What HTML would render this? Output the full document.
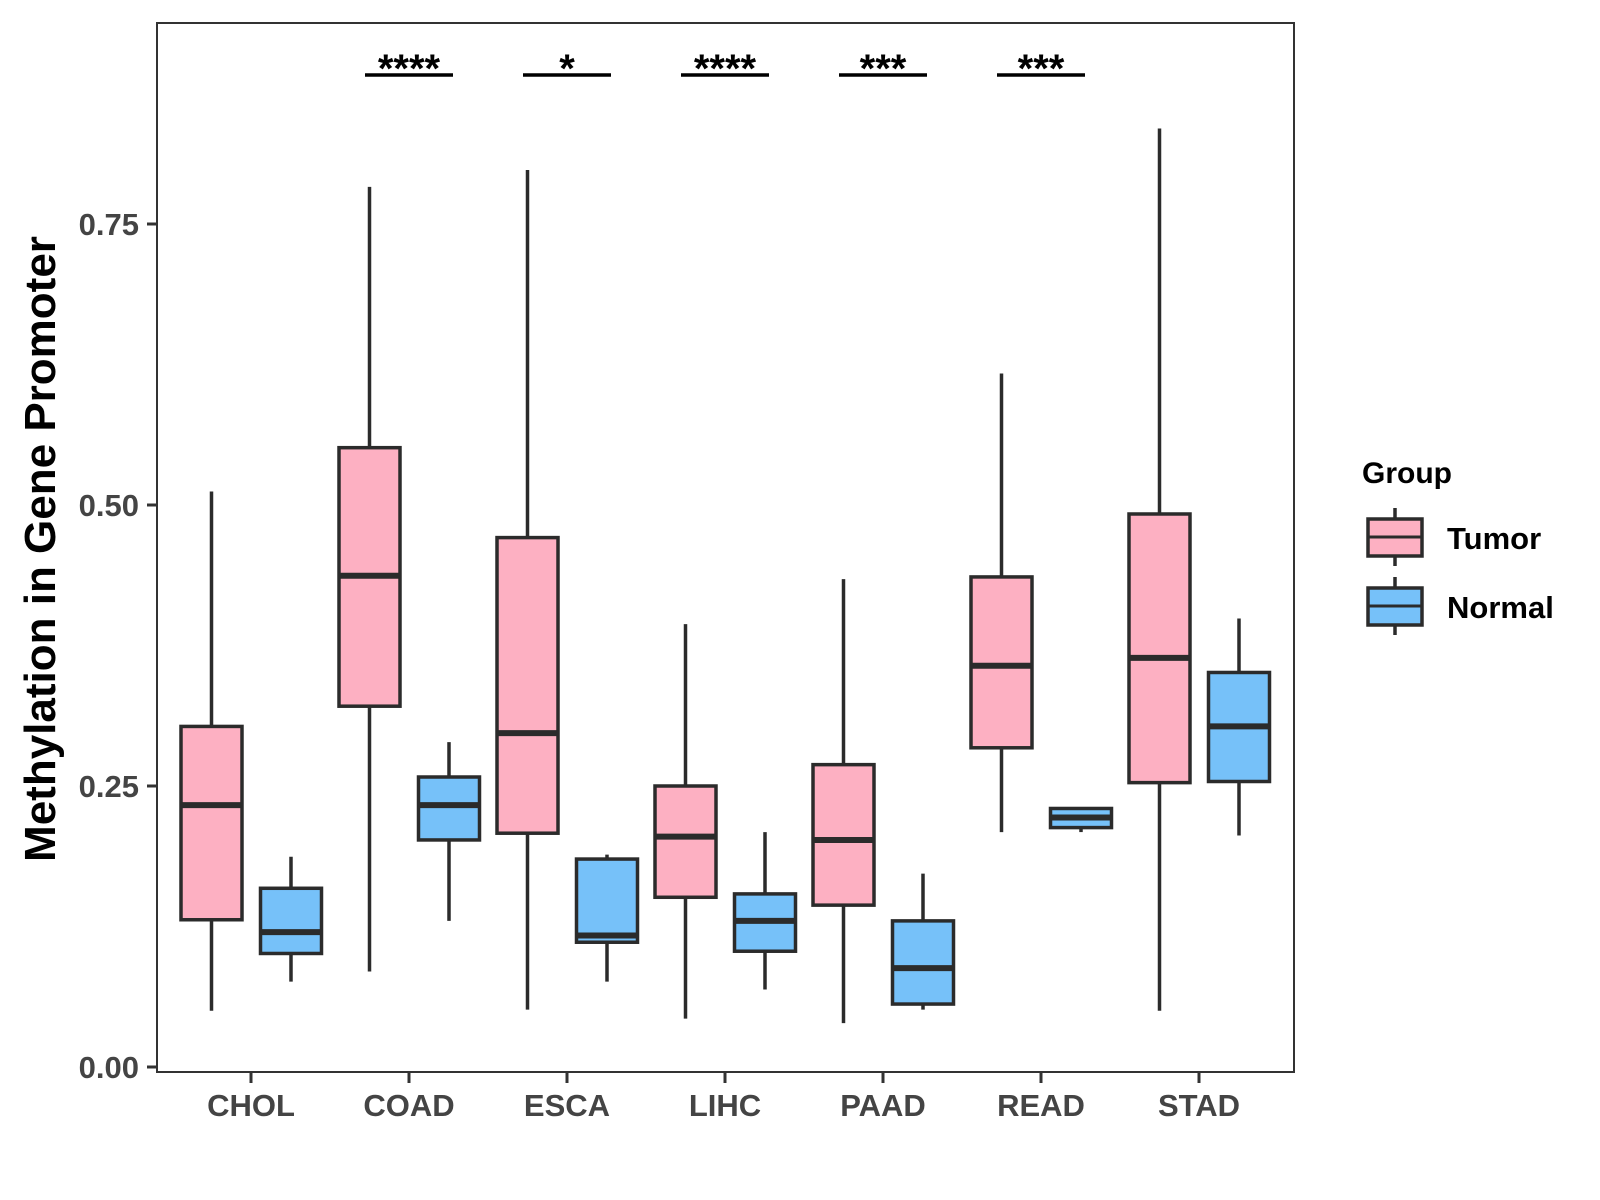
<!DOCTYPE html>
<html><head><meta charset="utf-8"><style>
body{margin:0;background:#fff;}
svg{display:block;font-family:"Liberation Sans",sans-serif;font-weight:bold;}
</style></head><body>
<svg id="chart" width="1600" height="1200" viewBox="0 0 1600 1200" xmlns="http://www.w3.org/2000/svg">
<rect x="157" y="23" width="1137" height="1049" fill="#fff" stroke="#333" stroke-width="2"/>
<g id="yaxis"></g>
<g id="xaxis"></g>
<g id="boxes"></g>
<g id="sig"></g>
<text x="55" y="549" transform="rotate(-90 55 549)" text-anchor="middle" font-size="44" fill="#000">Methylation in Gene Promoter</text>
<g>
<text x="1362" y="483" font-size="30" fill="#000">Group</text>
<g>
<line x1="1395" y1="508" x2="1395" y2="566" stroke="#2b2b2b" stroke-width="3.5"/>
<rect x="1368" y="519" width="54" height="37" fill="#FDB0C2" stroke="#2b2b2b" stroke-width="3.5"/>
<line x1="1368" y1="537" x2="1422" y2="537" stroke="#2b2b2b" stroke-width="3"/>
<text x="1447" y="549" font-size="31" fill="#000">Tumor</text>
</g>
<g>
<line x1="1395" y1="577" x2="1395" y2="635" stroke="#2b2b2b" stroke-width="3.5"/>
<rect x="1368" y="588" width="54" height="37" fill="#76C1F9" stroke="#2b2b2b" stroke-width="3.5"/>
<line x1="1368" y1="606" x2="1422" y2="606" stroke="#2b2b2b" stroke-width="3"/>
<text x="1447" y="618" font-size="31" fill="#000">Normal</text>
</g>
</g>
</svg>
<script>
const categories=["CHOL","COAD","ESCA","LIHC","PAAD","READ","STAD"];
// [whiskerMin, Q1, median, Q3, whiskerMax]
const tumorStats=[[0.050,0.131,0.233,0.303,0.512],[0.085,0.321,0.437,0.551,0.783],[0.051,0.208,0.297,0.471,0.798],[0.043,0.151,0.205,0.250,0.394],[0.039,0.144,0.202,0.269,0.434],[0.209,0.284,0.357,0.436,0.617],[0.050,0.253,0.364,0.492,0.835]];
const normalStats=[[0.076,0.101,0.120,0.159,0.187],[0.130,0.202,0.233,0.258,0.289],[0.076,0.111,0.117,0.185,0.189],[0.069,0.103,0.130,0.154,0.209],[0.051,0.056,0.088,0.130,0.172],[0.209,0.213,0.222,0.230,0.230],[0.206,0.254,0.303,0.351,0.399]];
const sigLabels=["","****","*","****","***","***",""];
const yTicks=[0,0.25,0.5,0.75];
const yTickLabels=["0.00","0.25","0.50","0.75"];
const NS="http://www.w3.org/2000/svg";
const y=v=>1067-v*1124;
const x=i=>251+i*158;
function mk(tag,attrs,parent){const e=document.createElementNS(NS,tag);for(const k in attrs)e.setAttribute(k,attrs[k]);parent.appendChild(e);return e;}
const ya=document.getElementById('yaxis');
yTicks.forEach((t,i)=>{
 const l=mk('line',{x1:147,x2:157,y1:y(t),y2:y(t),stroke:'#333','stroke-width':3},ya);
 
 
 const tx=mk('text',{x:139,y:y(t)+11,'text-anchor':'end','font-size':31,fill:'#444'},ya);
 tx.textContent=yTickLabels[i];
 
 
});
const xa=document.getElementById('xaxis');
categories.forEach((c,i)=>{
 const l=mk('line',{x1:x(i),x2:x(i),y1:1072,y2:1083,stroke:'#333','stroke-width':3},xa);
 
 
 const tx=mk('text',{x:x(i),y:1116,'text-anchor':'middle','font-size':31,fill:'#444'},xa);
 tx.textContent=c;
 
 
});
const bx=document.getElementById('boxes');
function drawBox(s,cx,fill,name){
 const g=mk('g',{},bx);
 
 
 const w=61;
 mk('line',{x1:cx,x2:cx,y1:y(s[4]),y2:y(s[0]),stroke:'#2b2b2b','stroke-width':3.5},g);
 mk('rect',{x:cx-w/2,y:y(s[3]),width:w,height:y(s[1])-y(s[3]),fill:fill,stroke:'#2b2b2b','stroke-width':3.5},g);
 mk('line',{x1:cx-w/2,x2:cx+w/2,y1:y(s[2]),y2:y(s[2]),stroke:'#2b2b2b','stroke-width':6},g);
}
categories.forEach((c,i)=>{
 drawBox(tumorStats[i],x(i)-39.5,'#FDB0C2','box-'+c.toLowerCase()+'-tumor');
 drawBox(normalStats[i],x(i)+40,'#76C1F9','box-'+c.toLowerCase()+'-normal');
});
const sg=document.getElementById('sig');
sigLabels.forEach((s,i)=>{
 if(!s)return;
 const l=mk('line',{x1:x(i)-44,x2:x(i)+44,y1:75,y2:75,stroke:'#000','stroke-width':3.5},sg);
 
 
 const t=mk('text',{x:x(i),y:82,'text-anchor':'middle','font-size':40,fill:'#000'},sg);
 t.textContent=s;
 
 
});
</script>
</body></html>
